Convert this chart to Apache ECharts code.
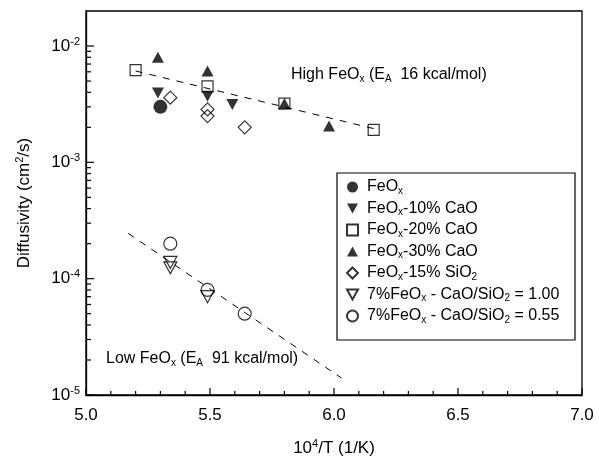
<!DOCTYPE html>
<html>
<head>
<meta charset="utf-8">
<script src="https://cdn.jsdelivr.net/npm/echarts@6/dist/echarts.min.js"></script>
<style>
  html, body { margin: 0; padding: 0; background: #fff; }
  #chart { width: 599px; height: 457px; }
</style>
</head>
<body>
<div id="chart"></div>
<script>
	'use strict';

	var FONT = '"Liberation Sans", Arial, sans-serif';

	// axis ranges and labelled decades
	var xMin = 5.0, xMax = 7.0;
	var yMin = 1e-5, yMax = 0.02;
	var decades = [1e-5, 1e-4, 1e-3, 1e-2];
	var decadeExp = ['-5', '-4', '-3', '-2'];
	var minorMult = [2, 3, 4, 5, 6, 7, 8, 9];
	var xMajor = [5.0, 5.5, 6.0, 6.5, 7.0];
	var xMinor = [5.1, 5.2, 5.3, 5.4, 5.6, 5.7, 5.8, 5.9, 6.1, 6.2, 6.3, 6.4, 6.6, 6.7, 6.8, 6.9];

	// data
	var feoxX = [5.30];
	var feoxY = [3.0e-3];
	var cao10X = [5.29, 5.49, 5.59];
	var cao10Y = [3.95e-3, 3.7e-3, 3.15e-3];
	var cao20X = [5.20, 5.49, 5.80, 6.16];
	var cao20Y = [6.2e-3, 4.5e-3, 3.2e-3, 1.9e-3];
	var cao30X = [5.29, 5.49, 5.80, 5.98];
	var cao30Y = [8.0e-3, 6.1e-3, 3.2e-3, 2.05e-3];
	var sio2X = [5.34, 5.49, 5.49, 5.64];
	var sio2Y = [3.6e-3, 2.85e-3, 2.5e-3, 2.0e-3];
	var r100X = [5.34, 5.34, 5.49];
	var r100Y = [1.38e-4, 1.24e-4, 7.0e-5];
	var r055X = [5.34, 5.49, 5.64];
	var r055Y = [2.0e-4, 8.0e-5, 5.0e-5];

	// dashed fits
	var highFitX = [5.20, 6.16];
	var highFitY = [6.1e-3, 1.95e-3];
	var lowFitX = [5.17, 6.03];
	var lowFitY = [2.45e-4, 1.4e-5];

	var names = [
		'FeOx', 'FeOx-10% CaO', 'FeOx-20% CaO', 'FeOx-30% CaO',
		'FeOx-15% SiO2', '7%FeOx - CaO/SiO2 = 1.00', '7%FeOx - CaO/SiO2 = 0.55'
	];
	var legendText = {
		'FeOx': 'FeO{sub|x}',
		'FeOx-10% CaO': 'FeO{sub|x}-10% CaO',
		'FeOx-20% CaO': 'FeO{sub|x}-20% CaO',
		'FeOx-30% CaO': 'FeO{sub|x}-30% CaO',
		'FeOx-15% SiO2': 'FeO{sub|x}-15% SiO{sub|2}',
		'7%FeOx - CaO/SiO2 = 1.00': '7%FeO{sub|x} - CaO/SiO{sub|2} = 1.00',
		'7%FeOx - CaO/SiO2 = 0.55': '7%FeO{sub|x} - CaO/SiO{sub|2} = 0.55'
	};
	var DOWN = 'path://M0,0 L10,0 L5,9 Z';
	var UP = 'path://M5,0 L10,9 L0,9 Z';

	function pairs(xs, ys){
		return xs.map(function(x, i){ return [x, ys[i]]; });
	}

	function marker(name, xs, ys, symbol, size, filled){
		return {
			name: name,
			type: 'scatter',
			data: pairs(xs, ys),
			symbol: symbol,
			symbolSize: size,
			itemStyle: {
				color: filled ? '#000' : 'rgba(0,0,0,0)',
				borderColor: '#000',
				borderWidth: filled ? 0 : 1.2
			},
			z: 5
		};
	}

	function fit(xs, ys){
		return {
			type: 'line',
			data: pairs(xs, ys),
			symbol: 'none',
			silent: true,
			lineStyle: { color: '#000', width: 1, type: [7, 7] },
			z: 3
		};
	}

	// tick list: [x, y, axis (0 = x, 1 = y), length]
	var ticks = [];
	xMajor.forEach(function(x){ ticks.push([x, yMin, 0, 7]); });
	xMinor.forEach(function(x){ ticks.push([x, yMin, 0, 4]); });
	decades.forEach(function(d){
		ticks.push([xMin, d, 1, 8]);
		minorMult.forEach(function(m){
			if (m * d < yMax) ticks.push([xMin, m * d, 1, 5]);
		});
	});

	var subRich = { sub: { fontSize: 10, verticalAlign: 'bottom', lineHeight: 8, fontFamily: FONT } };
	var supRich = { sup: { fontSize: 11, verticalAlign: 'top', lineHeight: 11, fontFamily: FONT } };

	var chart = echarts.init(document.getElementById('chart'));

	chart.setOption({
		animation: false,
		textStyle: { fontFamily: FONT },
		grid: {
			left: 86, right: 17, top: 11, bottom: 62,
			outerBoundsMode: 'none', containLabel: false,
			show: true, backgroundColor: 'transparent',
			borderColor: '#000', borderWidth: 1.3
		},
		xAxis: {
			type: 'value', min: xMin, max: xMax, interval: 0.5,
			name: '10{sup|4}/T (1/K)',
			nameLocation: 'middle', nameGap: 43,
			nameTextStyle: { fontSize: 17, color: '#000', fontFamily: FONT, lineHeight: 20, rich: supRich },
			axisLine: { show: true, lineStyle: { color: '#000', width: 1.3 } },
			axisTick: { show: false },
			splitLine: { show: false },
			axisLabel: {
				fontSize: 17, color: '#000', margin: 12, fontFamily: FONT,
				formatter: function(v){ return v.toFixed(1); }
			}
		},
		yAxis: {
			type: 'log', min: yMin, max: yMax, logBase: 10,
			name: 'Diffusivity (cm{sup|2}/s)',
			nameLocation: 'middle', nameGap: 52,
			nameTextStyle: { fontSize: 17, color: '#000', fontFamily: FONT, lineHeight: 20, rich: supRich },
			axisLine: { show: true, lineStyle: { color: '#000', width: 1.3 } },
			axisTick: { show: false },
			splitLine: { show: false },
			axisLabel: {
				fontSize: 17, color: '#000', margin: 6, fontFamily: FONT, lineHeight: 20,
				formatter: function(v){
					var i = decades.findIndex(function(d){ return Math.abs(v / d - 1) < 1e-6; });
					return i < 0 ? '' : '10{sup|' + decadeExp[i] + '}';
				},
				rich: supRich
			}
		},
		legend: {
			data: [
				{ name: names[0], icon: 'circle' },
				{ name: names[1], icon: DOWN },
				{ name: names[2], icon: 'rect' },
				{ name: names[3], icon: UP },
				{ name: names[4], icon: 'diamond' },
				{ name: names[5], icon: DOWN },
				{ name: names[6], icon: 'circle' }
			],
			orient: 'vertical',
			left: 346, top: 178,
			itemWidth: 11, itemHeight: 11, itemGap: 3.5,
			padding: 0,
			formatter: function(n){ return legendText[n]; },
			textStyle: { fontSize: 16, color: '#000', fontFamily: FONT, lineHeight: 18, padding: [0, 0, 0, 4], rich: subRich }
		},
		graphic: [
			{
				type: 'rect', silent: true, z: 0,
				shape: { x: 337, y: 173, width: 238, height: 167 },
				style: { fill: 'none', stroke: '#000', lineWidth: 1.2 }
			},
			{
				type: 'text', left: 291, top: 66, silent: true,
				style: {
					text: 'High FeO{sub|x} (E{sub|A}  16 kcal/mol)',
					fontSize: 16, fill: '#000', fontFamily: FONT, lineHeight: 18, rich: subRich
				}
			},
			{
				type: 'text', left: 106, top: 350, silent: true,
				style: {
					text: 'Low FeO{sub|x} (E{sub|A}  91 kcal/mol)',
					fontSize: 16, fill: '#000', fontFamily: FONT, lineHeight: 18, rich: subRich
				}
			}
		],
		series: [
			fit(highFitX, highFitY),
			fit(lowFitX, lowFitY),
			{
				type: 'custom',
				silent: true,
				clip: false,
				data: ticks,
				encode: { x: 0, y: 1 },
				z: 8,
				renderItem: function(params, api){
					var p = api.coord([api.value(0), api.value(1)]);
					var len = api.value(3);
					var horiz = api.value(2) === 1;
					return {
						type: 'line',
						shape: horiz
							? { x1: p[0], y1: p[1], x2: p[0] + len, y2: p[1] }
							: { x1: p[0], y1: p[1], x2: p[0], y2: p[1] - len },
						style: { stroke: '#000', lineWidth: 1.2 }
					};
				}
			},
			marker(names[0], feoxX, feoxY, 'circle', 14, true),
			marker(names[1], cao10X, cao10Y, DOWN, [12, 11], true),
			marker(names[2], cao20X, cao20Y, 'rect', 11, false),
			marker(names[3], cao30X, cao30Y, UP, [12, 11], true),
			marker(names[4], sio2X, sio2Y, 'diamond', 13, false),
			marker(names[5], r100X, r100Y, DOWN, [13, 12], false),
			marker(names[6], r055X, r055Y, 'circle', 13, false)
		]
	});
</script>
</body>
</html>
